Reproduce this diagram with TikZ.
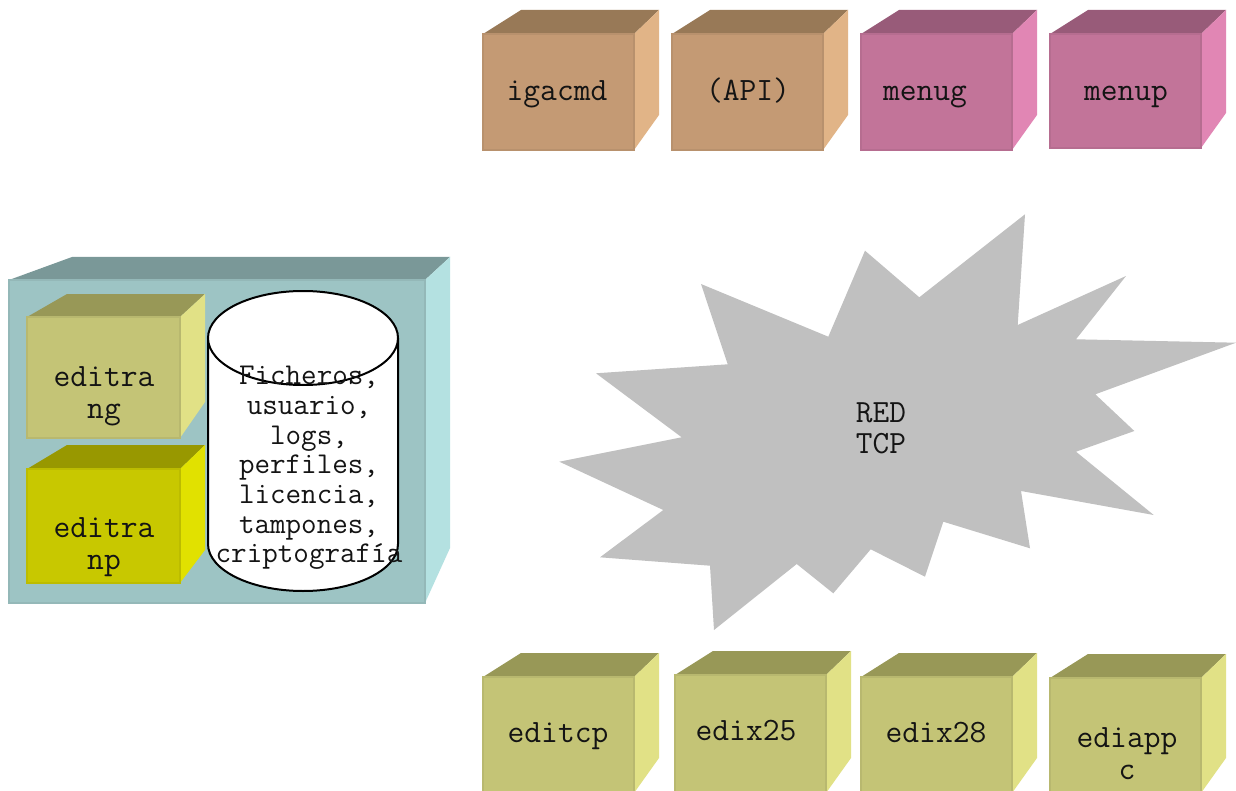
\documentclass[tikz,border=0pt]{standalone}
\usepackage{fontspec}
\definecolor{tanfront}{RGB}{196,154,116}
\definecolor{tantop}{RGB}{152,121,87}
\definecolor{tanside}{RGB}{225,180,135}
\definecolor{pinkfront}{RGB}{194,116,153}
\definecolor{pinktop}{RGB}{152,91,121}
\definecolor{pinkside}{RGB}{225,134,180}
\definecolor{olivefront}{RGB}{196,196,118}
\definecolor{olivetop}{RGB}{152,152,87}
\definecolor{oliveside}{RGB}{225,225,134}
\definecolor{yelfront}{RGB}{200,200,0}
\definecolor{yeltop}{RGB}{152,152,0}
\definecolor{yelside}{RGB}{225,225,0}
\definecolor{tealfront}{RGB}{157,196,196}
\definecolor{tealtop}{RGB}{122,152,152}
\definecolor{tealside}{RGB}{180,225,225}
\definecolor{stargray}{RGB}{192,192,192}
\definecolor{txt}{RGB}{20,20,20}
% #1 x, #2 y (front top-left), #3 width, #4 height, #5 rise of side bottom, #6 palette, #7 left depth dx, #8 top dy
\newcommand\cubebox[8]{%
  \fill[#6top] (#1,#2) -- (#1+#7,#2-#8) -- (#1+#3+25,#2-#8) -- (#1+#3,#2) -- cycle;
  \fill[#6side] (#1+#3,#2) -- (#1+#3+25,#2-#8) -- (#1+#3+25,#2+#4-#5) -- (#1+#3,#2+#4) -- cycle;
  \filldraw[fill=#6front, draw=#6front!94!black, line width=0.6pt] (#1,#2) rectangle (#1+#3,#2+#4);
}
\tikzset{
  lbl/.style={text=txt, font=\ttfamily\fontsize{16.3}{16}\selectfont, align=center, inner sep=0pt},
  lblone/.style={lbl, text height=1.3ex, text depth=0.3ex},
  cyltext/.style={text=txt, font=\ttfamily\fontsize{15.1}{14.85}\selectfont, align=center, inner sep=0pt},
  redtext/.style={text=txt, font=\ttfamily\fontsize{16.2}{15.5}\selectfont, align=center, inner sep=0pt}
}
\begin{document}
\begin{tikzpicture}[x=0.5pt,y=-0.5pt]
\useasboundingbox (0,0) rectangle (1236,791);
\clip (0,0) rectangle (1236,791);
\fill[white] (0,0) rectangle (1236,791);

% top row
\cubebox{483}{34}{151}{116}{35}{tan}{38}{24}
\node[lblone] (igacmd) at (557,96) {igacmd};
\cubebox{672}{34}{151}{116}{35}{tan}{38}{24}
\node[lblone] (api) at (748,96) {(API)};
\cubebox{861}{34}{151}{116}{35}{pink}{38}{24}
\node[lblone] (menug) at (925,96) {menug};
\cubebox{1050}{34}{151}{114}{35}{pink}{38}{24}
\node[lblone] (menup) at (1126,96) {menup};

% bottom row
\cubebox{483}{677}{151}{116}{35}{olive}{38}{24}
\node[lblone] (editcp) at (558,738) {editcp};
\cubebox{675}{675}{151}{118}{35}{olive}{38}{24}
\node[lblone] (edix25) at (746,736) {edix25};
\cubebox{861}{677}{151}{116}{35}{olive}{38}{24}
\node[lblone] (edix28) at (936,738) {edix28};
\cubebox{1050}{678}{151}{115}{35}{olive}{38}{24}
\node[lbl] (ediappc) at (1127,754) {ediapp\\c};

% big server box
\cubebox{9}{280}{416}{323}{55}{teal}{63}{23}
\cubebox{27}{317}{153}{121}{36}{olive}{40}{23}
\node[lbl] (editrang) at (104,396) {editra\\ng};
\cubebox{27}{469}{153}{114}{33}{yel}{40}{24}
\node[lbl] (editranp) at (104,547) {editra\\np};

% cylinder
\filldraw[fill=white, draw=black, line width=1pt]
  (208,338) -- (208,544) arc[start angle=180, end angle=360, x radius=47.5pt, y radius=23.5pt] -- (398,338);
\filldraw[fill=white, draw=black, line width=1pt] (303,338) ellipse [x radius=47.5pt, y radius=23.5pt];
\node[cyltext] (files) at (309,468) {Ficheros,\\usuario,\\logs,\\perfiles,\\licencia,\\tampones,\\criptografía};

% network star
\fill[stargray] (1025,214.3) -- (1017.7,325) -- (1126,276) -- (1076,339.3) -- (1236,342.7)
  -- (1095.3,394.3) -- (1134.3,431) -- (1076,451.7) -- (1153.7,515) -- (1021,491)
  -- (1030,548.3) -- (943.3,521.7) -- (925,576.7) -- (870.7,549.3) -- (833.3,593.3)
  -- (796.7,564) -- (714,630) -- (710,565.7) -- (600,557.3) -- (663.3,510)
  -- (559.3,461.7) -- (681.7,437.3) -- (596,373.3) -- (727.7,364.3) -- (701,284)
  -- (828.3,336.7) -- (865,250.7) -- (919.3,297.3) -- cycle;
\node[redtext] (red) at (881,428) {RED\\TCP};
\end{tikzpicture}
\end{document}
